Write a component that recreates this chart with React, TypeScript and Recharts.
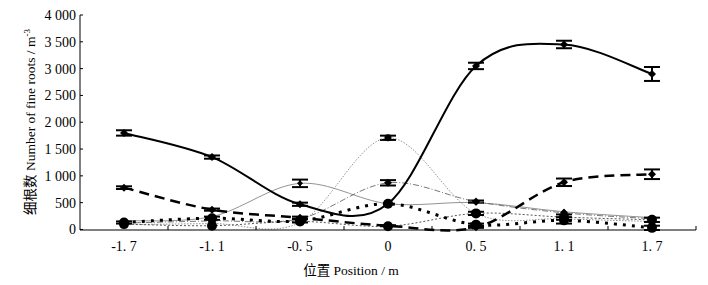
import React from 'react';
import { LineChart, Line, XAxis, YAxis, ErrorBar } from 'recharts';

const positions = ['-1.7', '-1.1', '-0.5', '0', '0.5', '1.1', '1.7'];
const solidVals = [1800, 1350, 470, 480, 3050, 3450, 2900];
const solidErr = [50, 30, 30, 0, 60, 70, 130];
const dashVals = [780, 370, 220, 70, 40, 880, 1030];
const dashErr = [25, 20, 20, 10, 10, 70, 90];
const peak0Vals = [90, 110, 130, 1710, 300, 200, 150];
const peak0Err = [0, 0, 0, 40, 0, 0, 0];
const peakM05Vals = [160, 240, 860, 480, 500, 330, 220];
const peakM05Err = [0, 0, 70, 0, 0, 0, 0];
const dashDotVals = [120, 160, 200, 870, 520, 310, 200];
const dashDotErr = [0, 0, 0, 50, 20, 0, 0];
const dottedVals = [130, 210, 160, 480, 90, 170, 30];
const dottedErr = [20, 30, 30, 0, 20, 60, 40];
const thinDotVals = [100, 70, 150, 60, 300, 230, 180];
const thinDotErr = [0, 0, 0, 0, 30, 50, 40];
const yTicks = [0, 500, 1000, 1500, 2000, 2500, 3000, 3500, 4000];

const data = positions.map((p, i) => ({
  pos: p,
  a: solidVals[i], aE: solidErr[i],
  b: dashVals[i], bE: dashErr[i],
  c: peak0Vals[i], cE: peak0Err[i],
  d: peakM05Vals[i], dE: peakM05Err[i],
  e: dashDotVals[i], eE: dashDotErr[i],
  f: dottedVals[i], fE: dottedErr[i],
  g: thinDotVals[i], gE: thinDotErr[i],
}));

// Excel-like smooth line (Catmull-Rom Bezier)
const smooth: any = (context: any) => {
  let pts: number[][] = [];
  return {
    areaStart() {},
    areaEnd() {},
    lineStart() { pts = []; },
    point(x: number, y: number) { pts.push([+x, +y]); },
    lineEnd() {
      const n = pts.length;
      if (!n) return;
      context.moveTo(pts[0][0], pts[0][1]);
      for (let i = 0; i < n - 1; i++) {
        const p0 = pts[i - 1] || pts[i];
        const p1 = pts[i];
        const p2 = pts[i + 1];
        const p3 = pts[i + 2] || p2;
        context.bezierCurveTo(
          p1[0] + (p2[0] - p0[0]) / 6, p1[1] + (p2[1] - p0[1]) / 6,
          p2[0] - (p3[0] - p1[0]) / 6, p2[1] - (p3[1] - p1[1]) / 6,
          p2[0], p2[1]
        );
      }
    },
  };
};

const SERIF = '"Liberation Serif", "Times New Roman", serif';

const fmt = (v: number) =>
  v >= 1000 ? `${Math.floor(v / 1000)} ${String(v % 1000).padStart(3, '0')}` : String(v);

const YTick = (props: any) => {
  const { x, y, payload } = props;
  return (
    <g>
      <line x1={x} x2={x + 3} y1={y} y2={y} stroke="#000" strokeWidth={1} />
      <text x={x - 4} y={y} dy={5} textAnchor="end" fontFamily={SERIF} fontSize={14} fill="#000">
        {fmt(payload.value)}
      </text>
    </g>
  );
};

const XTick = (props: any) => {
  const { x, y, payload } = props;
  return (
    <g>
      <line x1={x + 44} x2={x + 44} y1={y} y2={y - 4} stroke="#000" strokeWidth={1} />
      <text x={x} y={y} dy={21} textAnchor="middle" fontFamily={SERIF} fontSize={14} fill="#000">
        {payload.value.replace('.', '. ')}
      </text>
    </g>
  );
};

const Diamond = (props: any) => {
  const { cx, cy, size = 4 } = props;
  if (cx == null || cy == null) return null;
  return <path d={`M${cx},${cy - size}L${cx + size},${cy}L${cx},${cy + size}L${cx - size},${cy}Z`} fill="#000" />;
};

const Circle = (props: any) => {
  const { cx, cy } = props;
  if (cx == null || cy == null) return null;
  return <circle cx={cx} cy={cy} r={5} fill="#000" />;
};

const SmallCircle = (props: any) => {
  const { cx, cy } = props;
  if (cx == null || cy == null) return null;
  return <circle cx={cx} cy={cy} r={3.5} fill="#000" />;
};

export default function App() {
  return (
    <div style={{ position: 'absolute', left: 0, top: 0, width: 708, height: 285, background: '#fff' }}>
      <LineChart width={708} height={285} data={data} margin={{ top: 15, right: 12, bottom: 25, left: 0 }}>
        <XAxis
          dataKey="pos"
          height={30}
          padding={{ left: 44, right: 44 }}
          axisLine={{ stroke: '#000', strokeWidth: 1 }}
          tickLine={false}
          tickSize={0}
          tickMargin={0}
          tick={<XTick />}
          interval={0}
        />
        <YAxis
          width={80}
          domain={[0, 4000]}
          ticks={yTicks}
          interval={0}
          axisLine={{ stroke: '#000', strokeWidth: 1 }}
          tickLine={false}
          tickSize={0}
          tickMargin={0}
          tick={<YTick />}
        />
        <Line dataKey="c" type={smooth} stroke="#777" strokeWidth={0.8} strokeDasharray="1.5 1.5" dot={<SmallCircle />} isAnimationActive={false}>
          <ErrorBar dataKey="cE" width={8} stroke="#000" strokeWidth={2} />
        </Line>
        <Line dataKey="d" type={smooth} stroke="#777" strokeWidth={0.8} dot={<Diamond size={3} />} isAnimationActive={false}>
          <ErrorBar dataKey="dE" width={8} stroke="#000" strokeWidth={2} />
        </Line>
        <Line dataKey="e" type={smooth} stroke="#555" strokeWidth={0.8} strokeDasharray="6 2 1 2" dot={<Diamond size={4} />} isAnimationActive={false}>
          <ErrorBar dataKey="eE" width={8} stroke="#000" strokeWidth={2} />
        </Line>
        <Line dataKey="g" type={smooth} stroke="#444" strokeWidth={0.9} strokeDasharray="2 2" dot={<Circle />} isAnimationActive={false}>
          <ErrorBar dataKey="gE" width={8} stroke="#000" strokeWidth={2} />
        </Line>
        <Line dataKey="f" type={smooth} stroke="#000" strokeWidth={3} strokeDasharray="3 6" dot={<Circle />} isAnimationActive={false}>
          <ErrorBar dataKey="fE" width={8} stroke="#000" strokeWidth={2} />
        </Line>
        <Line dataKey="b" type={smooth} stroke="#000" strokeWidth={2.5} strokeDasharray="10 6" dot={<Diamond size={4} />} isAnimationActive={false}>
          <ErrorBar dataKey="bE" width={8} stroke="#000" strokeWidth={2} />
        </Line>
        <Line dataKey="a" type={smooth} stroke="#000" strokeWidth={2} dot={<Diamond size={4} />} isAnimationActive={false}>
          <ErrorBar dataKey="aE" width={8} stroke="#000" strokeWidth={2} />
        </Line>
      </LineChart>
      <svg width={708} height={285} style={{ position: 'absolute', left: 0, top: 0, pointerEvents: 'none' }}>
        <text
          transform="translate(35,122) rotate(-90)"
          textAnchor="middle"
          fontSize={13.5}
          fill="#000"
          fontFamily={SERIF}
        >
          <tspan fontFamily='"Noto Sans CJK SC", sans-serif'>细根数</tspan>
          <tspan> Number of fine roots / m</tspan>
          <tspan dy={-5} fontSize={9}>-3</tspan>
        </text>
        <text x={351} y={275} textAnchor="middle" fontSize={13.5} fill="#000" fontFamily={SERIF}>
          <tspan fontFamily='"Noto Sans CJK SC", sans-serif'>位置</tspan>
          <tspan>  Position / m</tspan>
        </text>
      </svg>
    </div>
  );
}
